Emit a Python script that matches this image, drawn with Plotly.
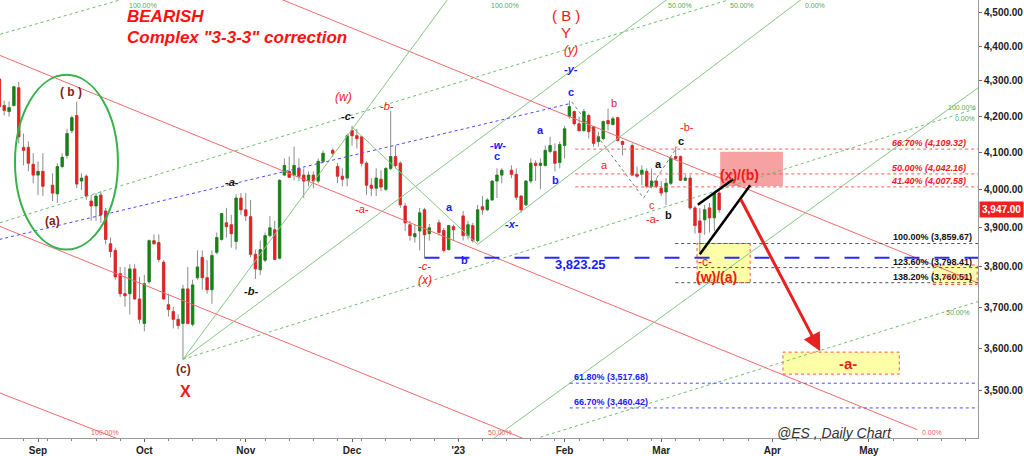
import math
import plotly.graph_objects as go

# ---------------- candle data (ES daily) ----------------
dates = [
    "2022-08-22", "2022-08-23", "2022-08-24", "2022-08-25", "2022-08-26", "2022-08-29", "2022-08-30", "2022-08-31",
    "2022-09-01", "2022-09-02", "2022-09-06", "2022-09-07", "2022-09-08", "2022-09-09", "2022-09-12", "2022-09-13",
    "2022-09-14", "2022-09-15", "2022-09-16", "2022-09-19", "2022-09-20", "2022-09-21", "2022-09-22", "2022-09-23",
    "2022-09-26", "2022-09-27", "2022-09-28", "2022-09-29", "2022-09-30",
    "2022-10-03", "2022-10-04", "2022-10-05", "2022-10-06", "2022-10-07", "2022-10-10", "2022-10-11", "2022-10-12",
    "2022-10-13", "2022-10-14", "2022-10-17", "2022-10-18", "2022-10-19", "2022-10-20", "2022-10-21", "2022-10-24",
    "2022-10-25", "2022-10-26", "2022-10-27", "2022-10-28", "2022-10-31",
    "2022-11-01", "2022-11-02", "2022-11-03", "2022-11-04", "2022-11-07", "2022-11-08", "2022-11-09", "2022-11-10",
    "2022-11-11", "2022-11-14", "2022-11-15", "2022-11-16", "2022-11-17", "2022-11-18", "2022-11-21", "2022-11-22",
    "2022-11-23", "2022-11-25", "2022-11-28", "2022-11-29", "2022-11-30",
    "2022-12-01", "2022-12-02", "2022-12-05", "2022-12-06", "2022-12-07", "2022-12-08", "2022-12-09", "2022-12-12",
    "2022-12-13", "2022-12-14", "2022-12-15", "2022-12-16", "2022-12-19", "2022-12-20", "2022-12-21", "2022-12-22",
    "2022-12-23", "2022-12-27", "2022-12-28", "2022-12-29", "2022-12-30",
    "2023-01-03", "2023-01-04", "2023-01-05", "2023-01-06", "2023-01-09", "2023-01-10", "2023-01-11", "2023-01-12",
    "2023-01-13", "2023-01-17", "2023-01-18", "2023-01-19", "2023-01-20", "2023-01-23", "2023-01-24", "2023-01-25",
    "2023-01-26", "2023-01-27", "2023-01-30", "2023-01-31",
    "2023-02-01", "2023-02-02", "2023-02-03", "2023-02-06", "2023-02-07", "2023-02-08", "2023-02-09", "2023-02-10",
    "2023-02-13", "2023-02-14", "2023-02-15", "2023-02-16", "2023-02-17", "2023-02-21", "2023-02-22", "2023-02-23",
    "2023-02-24", "2023-02-27", "2023-02-28",
    "2023-03-01", "2023-03-02", "2023-03-03", "2023-03-06", "2023-03-07", "2023-03-08", "2023-03-09", "2023-03-10",
    "2023-03-13", "2023-03-14", "2023-03-15", "2023-03-16", "2023-03-17",
]
opens = [
    4305, 4230, 4213, 4230, 4280, 4114, 4114, 4068,
    4039, 4049, 4012, 3989, 4062, 4092, 4160, 4202, 4023, 4036, 3970, 3957, 3986, 3944, 3859, 3842, 3783, 3733, 3733, 3795, 3720,
    3660, 3763, 3867, 3862, 3812, 3706, 3689, 3670, 3660, 3745, 3658, 3773, 3824, 3773, 3743, 3837, 3870, 3913, 3908, 3865, 3978,
    3947, 3929, 3832, 3793, 3817, 3880, 3895, 3822, 4039, 4049, 4039, 4057, 4039, 4025, 4039, 4023, 4076, 4106, 4062, 4036, 4031,
    4160, 4146, 4143, 4071, 4012, 4004, 4028, 4001, 4057, 4089, 4071, 3957, 3908, 3877, 3892, 3947, 3885, 3913, 3893, 3844, 3903,
    3931, 3880, 3906, 3867, 3955, 3947, 3973, 4023, 4039, 4052, 4041, 3983, 3960, 4023, 4071, 4065, 4065, 4103, 4103, 4073,
    4119, 4199, 4213, 4179, 4160, 4202, 4171, 4130, 4138, 4188, 4177, 4196, 4130, 4119, 4041, 4041, 4049, 4009, 4023,
    4004, 3994, 4017, 4089, 4089, 4025, 4031, 3952, 3918, 3921, 3952, 3926, 3991,
]
highs = [
    4311, 4244, 4241, 4286, 4297, 4152, 4130, 4098,
    4076, 4098, 4044, 4071, 4098, 4165, 4202, 4241, 4044, 4041, 3986, 3991, 3996, 3952, 3875, 3849, 3800, 3800, 3807, 3807, 3775,
    3780, 3870, 3883, 3883, 3817, 3733, 3701, 3682, 3755, 3800, 3768, 3842, 3842, 3817, 3842, 3888, 3939, 3952, 3934, 3988, 3991,
    3991, 3973, 3844, 3867, 3888, 3931, 3918, 4028, 4084, 4089, 4116, 4084, 4057, 4049, 4049, 4084, 4106, 4111, 4071, 4057, 4152,
    4173, 4165, 4146, 4076, 4031, 4057, 4052, 4060, 4215, 4119, 4076, 3965, 3918, 3908, 3952, 3952, 3910, 3921, 3900, 3908, 3908,
    3944, 3918, 3913, 3960, 3983, 3978, 4025, 4057, 4057, 4065, 4057, 3986, 4025, 4084, 4079, 4084, 4119, 4143, 4125, 4130,
    4173, 4244, 4216, 4199, 4221, 4207, 4173, 4157, 4188, 4221, 4199, 4199, 4133, 4125, 4062, 4065, 4057, 4057, 4031,
    4023, 4031, 4089, 4116, 4092, 4039, 4039, 3957, 3952, 3960, 3965, 3996, 3999,
]
lows = [
    4221, 4202, 4199, 4227, 4125, 4065, 4049, 4017,
    3986, 3983, 3970, 3965, 4057, 4084, 4152, 4004, 3999, 3973, 3918, 3918, 3913, 3857, 3824, 3768, 3725, 3701, 3682, 3718, 3660,
    3641, 3758, 3857, 3812, 3718, 3677, 3648, 3646, 3574, 3658, 3653, 3768, 3743, 3733, 3708, 3832, 3867, 3875, 3849, 3844, 3934,
    3918, 3824, 3770, 3780, 3812, 3875, 3817, 3819, 4036, 4031, 4025, 4023, 3978, 4009, 4004, 4017, 4071, 4089, 4017, 4009, 4009,
    4119, 4111, 4062, 3986, 3983, 3983, 3996, 3996, 4052, 4057, 3952, 3892, 3867, 3862, 3842, 3823.25, 3867, 3880, 3837, 3842, 3867,
    3867, 3870, 3862, 3862, 3934, 3944, 3970, 3978, 4017, 4031, 3973, 3939, 3957, 4017, 4023, 4001, 4062, 4098, 4049, 4057,
    4084, 4193, 4174, 4157, 4157, 4138, 4116, 4116, 4133, 4160, 4174, 4130, 4092, 4036, 4031, 4012, 4004, 4004, 4004,
    3983, 3960, 4012, 4079, 4023, 4023, 3947, 3885, 3832, 3882, 3888, 3892, 3939,
]
closes = [
    4227, 4216, 4224, 4283, 4143, 4106, 4071, 4039,
    4049, 4009, 3991, 4062, 4087, 4152, 4196, 4015, 4031, 3983, 3957, 3983, 3934, 3870, 3839, 3775, 3733, 3728, 3795, 3720, 3670,
    3758, 3867, 3859, 3819, 3720, 3694, 3670, 3655, 3745, 3660, 3755, 3800, 3773, 3743, 3829, 3875, 3937, 3903, 3885, 3978, 3947,
    3931, 3832, 3795, 3844, 3880, 3900, 3819, 4025, 4065, 4033, 4065, 4036, 4023, 4039, 4023, 4076, 4098, 4098, 4036, 4028, 4146,
    4146, 4138, 4071, 4012, 4004, 4031, 4007, 4057, 4089, 4065, 3960, 3913, 3880, 3885, 3939, 3882, 3900, 3888, 3842, 3906, 3895,
    3880, 3908, 3867, 3947, 3947, 3973, 4023, 4039, 4052, 4041, 3980, 3947, 4023, 4071, 4065, 4071, 4106, 4119, 4071, 4122,
    4165, 4227, 4179, 4160, 4213, 4157, 4125, 4143, 4185, 4179, 4193, 4133, 4122, 4039, 4036, 4052, 4009, 4023, 4009,
    3991, 4017, 4084, 4084, 4025, 4031, 3952, 3906, 3888, 3947, 3926, 3991, 3947,
]
last_price = 3947.00

# ---------------- axis ticks ----------------
y_ticks = [3500, 3600, 3700, 3800, 3900, 4000, 4100, 4200, 4300, 4400, 4500]
y_ticktext = ["3,500.00", "3,600.00", "3,700.00", "3,800.00", "3,900.00", "4,000.00",
              "4,100.00", "4,200.00", "4,300.00", "4,400.00", "4,500.00"]
month_ticks = ["2022-09-01", "2022-10-03", "2022-11-01", "2022-12-01", "2023-01-02",
               "2023-02-01", "2023-03-01", "2023-04-03", "2023-05-01"]
month_labels = ["Sep", "Oct", "Nov", "Dec", "'23", "Feb", "Mar", "Apr", "May"]
x_range = ["2022-08-22 03:00", "2023-05-31 14:00"]
y_range = [3392, 4537]

# ---------------- drawn trend lines (date, price anchors) ----------------
red_channel_x = [["2022-08-15", "2023-05-15"], ["2022-11-07", "2023-06-05"],
                 ["2022-08-15", "2023-01-23"], ["2022-08-15", "2022-10-03"]]
red_channel_y = [[4414, 3411], [4559, 3738], [3940, 3384], [3526, 3367]]

green_solid_x = [["2022-10-13", "2022-12-29"], ["2022-10-13", "2023-03-06"],
                 ["2023-01-09", "2023-06-05"], ["2023-01-06", "2023-04-17"],
                 ["2022-12-01", "2023-01-06"]]
green_solid_y = [[3574, 4543], [3574, 4558], [3373, 4324], [3857, 4583], [4170, 3857]]

green_dot_x = [["2022-08-15", "2022-10-03"], ["2022-08-15", "2023-04-03"],
               ["2022-10-13", "2023-06-05"], ["2023-01-25", "2023-06-05"]]
green_dot_y = [[4406, 4558], [3886, 4578], [3574, 4242], [3394, 3730]]

blue_dot_x = ["2022-08-22", "2023-02-02"]
blue_dot_y = [3870, 4235]

gray_zig_x = ["2023-02-02 12:00", "2023-02-23 08:00", "2023-03-06 08:00"]
gray_zig_y = [4240, 3978, 4116]

wedge_up_x = ["2023-03-10 14:00", "2023-03-21 22:00"]
wedge_up_y = [3960, 4028]
wedge_lo_x = ["2023-03-13", "2023-03-27 10:00"]
wedge_lo_y = [3832, 4012]

arrow_from = ("2023-03-23 08:00", 3978)
arrow_to = ("2023-04-14 22:00", 3593)

# ---------------- fibonacci levels ----------------
red_levels = [4109.32, 4042.16, 4007.58]
red_level_text = ["66.70% (4,109.32)", "50.00% (4,042.16)", "41.40% (4,007.58)"]
black_levels = [3859.67, 3798.41, 3760.51]
black_level_text = ["100.00% (3,859.67)", "123.60% (3,798.41)", "138.20% (3,760.51)"]
blue_levels = [3517.68, 3460.42]
blue_level_text = ["61.80% (3,517.68)", "66.70% (3,460.42)"]
support_level = 3823.25

# ---------------- zones ----------------
pink_zone = (["2023-03-17 05:00", "2023-04-05 05:00"], [4010, 4102])
yellow_wa_zone = (["2023-03-10 10:00", "2023-03-27 10:00"], [3760.51, 3859.67])
yellow_a_zone = (["2023-04-05 05:00", "2023-05-09 07:00"], [3539, 3591])
yellow_small_zone = (["2023-05-18 07:00", "2023-05-31 10:00"], [3756, 3805])
ellipse_zone = (["2022-08-25 05:30", "2022-09-23 13:00"], [3844, 4317])

# ---------------- wave labels ----------------
wave_text = ["( b )", "(a)", "(c)", "X", "-a-", "-b-", "-a-", "(w)", "-c-", "-b-", "-c-", "(x)",
             "a", "b", "-w-", "c", "-x-", "a", "b", "c", "-y-", "(y)", "Y", "( B )",
             "b", "a", "-b-", "c", "a", "c", "-a-", "b", "-c-", "(w)/(a)", "(x)/(b)", "-a-", "3,823.25"]
wave_date = ["2022-09-09 19:00", "2022-09-05 22:00", "2022-10-13 05:00", "2022-10-13 14:00",
             "2022-10-27 05:00", "2022-11-02 02:00", "2022-12-05 02:00", "2022-11-29 07:00",
             "2022-11-30 05:00", "2022-12-12 05:00", "2022-12-22 02:00", "2022-12-22 02:00",
             "2022-12-29 02:00", "2023-01-03 05:00", "2023-01-12 05:00", "2023-01-12 00:00",
             "2023-01-17 02:00", "2023-01-25 02:00", "2023-01-30 05:00", "2023-02-02 07:00",
             "2023-02-02 07:00", "2023-02-02 07:00", "2023-02-01 07:00", "2023-02-01 07:00",
             "2023-02-15 05:00", "2023-02-13 05:00", "2023-03-08 10:00", "2023-03-07 02:00",
             "2023-02-28 10:00", "2023-02-27 02:00", "2023-02-27 07:00", "2023-03-02 10:00",
             "2023-03-14 02:00", "2023-03-16 10:00", "2023-03-23 07:00", "2023-04-24 17:00",
             "2023-02-06 05:00"]
wave_price = [4269, 3919, 3551, 3498, 4020, 3740, 3949, 4255, 4201, 4229, 3802, 3767,
              3955, 3817, 4120, 4090, 3911, 4163, 4026, 4269, 4334, 4388, 4440, 4490,
              4237, 4066, 4171, 4132, 4068, 3960, 3924, 3934, 3812, 3775, 4039, 3565, 3805]
DR, R, B, K = "#8b1c1c", "#f01818", "#1a1aff", "#111111"
wave_color = [DR, DR, DR, R, K, K, R, R, K, R, R, R,
              B, B, B, B, B, B, B, B, B, R, R, R,
              R, R, R, K, K, R, R, K, R, R, R, R, B]
wave_size = [12, 12, 12, 16, 11, 11, 11, 12, 11, 11, 11, 12,
             11, 11, 11, 11, 11, 11, 11, 11, 11, 12, 15, 15,
             11, 11, 11, 11, 11, 11, 11, 11, 12, 14, 14, 15, 13]
wave_style = ["b", "b", "b", "b", "bi", "bi", "i", "i", "bi", "i", "i", "i",
              "b", "b", "bi", "b", "bi", "b", "b", "b", "bi", "i", "", "",
              "", "", "", "b", "b", "", "", "b", "", "b", "b", "b", "b"]

# small percentage labels of the fan / channel tools
pct_top_text = ["100.00%", "100.00%", "50.00%", "50.00%", "0.00%"]
pct_top_date = ["2022-09-30 17:00", "2023-01-13 17:00", "2023-03-06 22:00", "2023-03-23 19:00", "2023-04-13 22:00"]
pct_bottom_text = ["100.00%", "50.00%", "0.00%"]
pct_bottom_date = ["2022-09-20 22:00", "2023-01-12 14:00", "2023-05-18 02:00"]
pct_right_text = ["100.00%", "0.00%", "50.00%"]
pct_right_date = ["2023-05-26 07:00", "2023-05-26 22:00", "2023-05-25 12:00"]
pct_right_price = [4224, 4193, 3687]

FONT = "Liberation Sans, Arial, sans-serif"
GREEN = "#0e870e"
RED = "#f21c1c"
WICK = "#8c8c8c"

fig = go.Figure()


def add_line(xs, ys, color, width=1.0, dash="solid"):
    fig.add_trace(go.Scatter(x=xs, y=ys, mode="lines",
                             line=dict(color=color, width=width, dash=dash),
                             hoverinfo="skip", showlegend=False))


for xs, ys in zip(red_channel_x, red_channel_y):
    add_line(xs, ys, "#f26b6b", 1)
for xs, ys in zip(green_solid_x, green_solid_y):
    add_line(xs, ys, "#86c986", 1)
for xs, ys in zip(green_dot_x, green_dot_y):
    add_line(xs, ys, "#6fbf6f", 1, "dot")
add_line(blue_dot_x, blue_dot_y, "#4a4aff", 1, "dot")
add_line(gray_zig_x, gray_zig_y, "#777777", 1, "dot")

right_end = "2023-06-09"
for lv in red_levels:
    add_line(["2023-02-03 05:00", right_end], [lv, lv], "#ff5a5a", 1, "dot")
for lv in black_levels:
    add_line(["2023-03-03 22:00", right_end], [lv, lv], "#555555", 1, "dot")
for lv in blue_levels:
    add_line(["2023-02-02 02:00", right_end], [lv, lv], "#4a4aff", 1, "dot")
add_line(["2022-12-22", right_end], [support_level, support_level], "#2a2aff", 2, "longdash")

# wicks
fig.add_trace(go.Candlestick(
    x=dates, open=opens, high=highs, low=lows, close=closes,
    increasing=dict(line=dict(color=WICK, width=1), fillcolor=WICK),
    decreasing=dict(line=dict(color=WICK, width=1), fillcolor=WICK),
    hoverinfo="skip", showlegend=False))
# bodies
body_hi = [max(o, c) for o, c in zip(opens, closes)]
body_lo = [min(o, c) for o, c in zip(opens, closes)]
fig.add_trace(go.Candlestick(
    x=dates, open=opens, high=body_hi, low=body_lo, close=closes,
    increasing=dict(line=dict(color=GREEN, width=0.5), fillcolor=GREEN),
    decreasing=dict(line=dict(color=RED, width=0.5), fillcolor=RED),
    hoverinfo="skip", showlegend=False))

add_line(wedge_up_x, wedge_up_y, "#000000", 2.5)
add_line(wedge_lo_x, wedge_lo_y, "#000000", 2.5)

shapes = []
shapes.append(dict(type="rect", xref="x", yref="y", x0=pink_zone[0][0], x1=pink_zone[0][1],
                   y0=pink_zone[1][0], y1=pink_zone[1][1], fillcolor="#f6a2a2",
                   line=dict(width=0), layer="below"))
for zone in (yellow_wa_zone, yellow_a_zone, yellow_small_zone):
    shapes.append(dict(type="rect", xref="x", yref="y", x0=zone[0][0], x1=zone[0][1],
                       y0=zone[1][0], y1=zone[1][1], fillcolor="#ffffa8",
                       line=dict(color="#ff5050", width=1, dash="dot"), layer="below"))
shapes.append(dict(type="circle", xref="x", yref="y", x0=ellipse_zone[0][0], x1=ellipse_zone[0][1],
                   y0=ellipse_zone[1][0], y1=ellipse_zone[1][1],
                   line=dict(color="#36b24a", width=2)))

L = math.log10
ann = []


def styled(t, s):
    if "i" in s:
        t = "<i>" + t + "</i>"
    if "b" in s:
        t = "<b>" + t + "</b>"
    return t


for t, d, p, c, s, st in zip(wave_text, wave_date, wave_price, wave_color, wave_size, wave_style):
    ann.append(dict(x=d, y=L(p), xref="x", yref="y", text=styled(t, st), showarrow=False,
                    font=dict(family=FONT, size=s, color=c)))

for lv, t in zip(red_levels, red_level_text):
    ann.append(dict(x="2023-05-29 08:00", y=L(lv), xref="x", yref="y", text="<b><i>" + t + "</i></b>",
                    showarrow=False, xanchor="right", yanchor="bottom", borderpad=0,
                    font=dict(family=FONT, size=9, color="#f01818")))
for lv, t in zip(black_levels, black_level_text):
    ann.append(dict(x="2023-05-30 14:00", y=L(lv), xref="x", yref="y", text="<b>" + t + "</b>",
                    showarrow=False, xanchor="right", yanchor="bottom", borderpad=0,
                    font=dict(family=FONT, size=9, color="#111111")))
for lv, t in zip(blue_levels, blue_level_text):
    ann.append(dict(x="2023-02-02 19:00", y=L(lv), xref="x", yref="y", text="<b>" + t + "</b>",
                    showarrow=False, xanchor="left", yanchor="bottom", borderpad=0,
                    font=dict(family=FONT, size=9, color="#1a1aff")))

for t, d in zip(pct_top_text, pct_top_date):
    ann.append(dict(x=d, y=1, xref="x", yref="paper", text=t, showarrow=False, yanchor="top",
                    font=dict(family=FONT, size=7, color="#55aa55")))
for t, d in zip(pct_bottom_text, pct_bottom_date):
    ann.append(dict(x=d, y=0, xref="x", yref="paper", text=t, showarrow=False, yanchor="bottom",
                    font=dict(family=FONT, size=7, color="#f06060")))
for t, d, p in zip(pct_right_text, pct_right_date, pct_right_price):
    ann.append(dict(x=d, y=L(p), xref="x", yref="y", text=t, showarrow=False,
                    font=dict(family=FONT, size=7, color="#55aa55")))
ann.append(dict(x="2023-05-24 19:00", y=L(3775), xref="x", yref="y", text="50.00%", showarrow=False,
                font=dict(family=FONT, size=7, color="#f06060")))

# arrow
ann.append(dict(x=arrow_to[0], y=L(arrow_to[1]), ax=arrow_from[0], ay=L(arrow_from[1]),
                xref="x", yref="y", axref="x", ayref="y", text="", showarrow=True,
                arrowhead=2, arrowsize=1.2, arrowwidth=3, arrowcolor="#e82020"))

# captions
ann.append(dict(x=125 / 978, y=1 - 17 / 442, xref="paper", yref="paper", xanchor="left", yanchor="middle",
                text="<b><i>BEARISH</i></b>",
                showarrow=False, font=dict(family=FONT, size=17, color="#ff1010")))
ann.append(dict(x=125 / 978, y=1 - 38 / 442, xref="paper", yref="paper", xanchor="left", yanchor="middle",
                text="<b><i>Complex \"3-3-3\" correction</i></b>",
                showarrow=False, font=dict(family=FONT, size=17, color="#ff1010")))
ann.append(dict(x=0.792, y=0.012, xref="paper", yref="paper", xanchor="left", yanchor="middle",
                text="<i>@ES , Daily Chart</i>", showarrow=False,
                font=dict(family=FONT, size=14, color="#333333")))
# last price tag
ann.append(dict(x=1, y=L(last_price), xref="paper", yref="y", xanchor="left", yanchor="middle", xshift=1,
                text="<b>3,947.00</b>", showarrow=False, bgcolor="#ee2020", borderpad=2,
                font=dict(family=FONT, size=10, color="#ffffff")))

fig.update_layout(
    width=1024, height=456,
    margin=dict(l=0, r=46, t=0, b=14),
    paper_bgcolor="white", plot_bgcolor="white",
    showlegend=False,
    shapes=shapes, annotations=ann,
    font=dict(family=FONT),
    xaxis=dict(type="date", range=x_range, rangebreaks=[dict(bounds=["sat", "mon"])],
               rangeslider=dict(visible=False),
               tickmode="array", tickvals=month_ticks, ticktext=["<b>" + m + "</b>" for m in month_labels],
               tickfont=dict(family=FONT, size=10, color="#222222"),
               ticks="outside", ticklen=3, tickcolor="#666666",
               minor=dict(ticks="outside", ticklen=2, tickcolor="#888888",
                          dtick=7 * 24 * 3600 * 1000, tick0="2022-08-22"),
               showgrid=False, zeroline=False, showline=True, linecolor="#999999", linewidth=1),
    yaxis=dict(type="log", side="right", range=[L(y_range[0]), L(y_range[1])],
               tickmode="array", tickvals=y_ticks, ticktext=["<b>" + t + "</b>" for t in y_ticktext],
               tickfont=dict(family=FONT, size=10, color="#222222"),
               ticks="outside", ticklen=3, tickcolor="#666666",
               showgrid=False, zeroline=False, showline=True, linecolor="#999999", linewidth=1),
)

fig.write_html("out.html", config={"displayModeBar": False},
               post_script="document.body.style.margin='0';document.body.style.overflow='hidden';")
